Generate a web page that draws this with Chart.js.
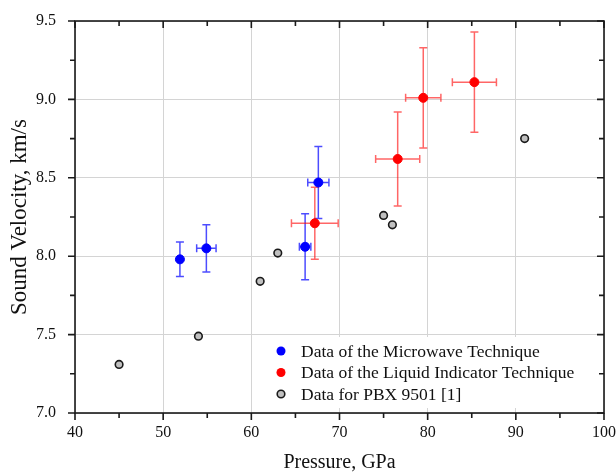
<!DOCTYPE html>
<html>
<head>
<meta charset="utf-8">
<script src="https://cdn.jsdelivr.net/npm/chart.js@4.4.0/dist/chart.umd.min.js"></script>
<style>
  html, body { margin: 0; padding: 0; background: #fff; }
</style>
</head>
<body>
<canvas id="sound-chart" width="616" height="475"></canvas>
<script>
// microwave technique
const mwPressure = [51.9, 54.9, 66.1, 67.6];
const mwPressureErr = [0, 1.1, 0.65, 1.2];
const mwVelocity = [7.98, 8.05, 8.06, 8.47];
const mwVelocityErr = [0.11, 0.15, 0.21, 0.23];

// liquid indicator technique
const liqPressure = [67.2, 76.6, 79.5, 85.3];
const liqPressureErr = [2.65, 2.5, 2.0, 2.5];
const liqVelocity = [8.21, 8.62, 9.01, 9.11];
const liqVelocityErr = [0.23, 0.30, 0.32, 0.32];

// PBX 9501 reference data
const pbxPressure = [45, 54, 61, 63, 75, 76, 91];
const pbxVelocity = [7.31, 7.49, 7.84, 8.02, 8.26, 8.20, 8.75];

const seriesLabels = ['Data of the Microwave Technique', 'Data of the Liquid Indicator Technique', 'Data for PBX 9501 [1]'];
const xTicks = [40, 50, 60, 70, 80, 90, 100];
const yTicks = [7.0, 7.5, 8.0, 8.5, 9.0, 9.5];

Chart.defaults.font.family = '"Liberation Serif", "Times New Roman", serif';
Chart.defaults.color = '#111';

function toPoints(xs, ys) {
  return xs.map((x, i) => ({x: x, y: ys[i]}));
}

// draws the x/y error bars of a dataset before the points
const errorBars = {
  id: 'errorBars',
  beforeDatasetsDraw(chart) {
    const ctx = chart.ctx;
    const x = chart.scales.x, y = chart.scales.y;
    const cap = 4;
    chart.data.datasets.forEach(ds => {
      if (!ds.errX) return;
      ctx.save();
      ctx.strokeStyle = ds.errColor;
      ctx.lineWidth = 1.5;
      ds.data.forEach((pt, i) => {
        const px = x.getPixelForValue(pt.x);
        const py = y.getPixelForValue(pt.y);
        const ex = ds.errX[i], ey = ds.errY[i];
        ctx.beginPath();
        if (ey) {
          const y1 = y.getPixelForValue(pt.y + ey), y2 = y.getPixelForValue(pt.y - ey);
          ctx.moveTo(px, y1); ctx.lineTo(px, y2);
          ctx.moveTo(px - cap, y1); ctx.lineTo(px + cap, y1);
          ctx.moveTo(px - cap, y2); ctx.lineTo(px + cap, y2);
        }
        if (ex) {
          const x1 = x.getPixelForValue(pt.x - ex), x2 = x.getPixelForValue(pt.x + ex);
          ctx.moveTo(x1, py); ctx.lineTo(x2, py);
          ctx.moveTo(x1, py - cap); ctx.lineTo(x1, py + cap);
          ctx.moveTo(x2, py - cap); ctx.lineTo(x2, py + cap);
        }
        ctx.stroke();
      });
      ctx.restore();
    });
  }
};

// legend box inside the plot, lower right
const insideLegend = {
  id: 'insideLegend',
  afterDatasetsDraw(chart) {
    const ctx = chart.ctx;
    ctx.save();
    ctx.fillStyle = '#fff';
    ctx.fillRect(262, 337, 340, 71);
    ctx.font = '17.5px "Liberation Serif", "Times New Roman", serif';
    ctx.textBaseline = 'middle';
    chart.data.datasets.forEach((ds, i) => {
      const rowY = 351 + i * 21.5;
      ctx.beginPath();
      ctx.arc(281, rowY, ds.legendRadius, 0, Math.PI * 2);
      ctx.fillStyle = ds.backgroundColor;
      ctx.fill();
      if (ds.borderWidth > 1) {
        ctx.lineWidth = ds.borderWidth;
        ctx.strokeStyle = ds.borderColor;
        ctx.stroke();
      }
      ctx.fillStyle = '#111';
      ctx.fillText(ds.label, 301, rowY + 1);
    });
    ctx.restore();
  }
};

// frame with ticks: out on left/bottom, in on top/right
const frameTicks = {
  id: 'frameTicks',
  afterDraw(chart) {
    const ctx = chart.ctx;
    const {left, right, top, bottom} = chart.chartArea;
    const x = chart.scales.x, y = chart.scales.y;
    ctx.save();
    ctx.strokeStyle = '#1a1a1a';
    ctx.lineWidth = 1.6;
    ctx.strokeRect(left, top, right - left, bottom - top);
    ctx.beginPath();
    for (let v = x.min; v <= x.max + 0.001; v += 5) {
      const px = x.getPixelForValue(v);
      const major = Math.abs(v % 10) < 0.001;
      ctx.moveTo(px, bottom); ctx.lineTo(px, bottom + (major ? 7 : 5));
      ctx.moveTo(px, top); ctx.lineTo(px, top + (major ? 7 : 5));
    }
    for (let v = y.min; v <= y.max + 0.001; v += 0.25) {
      const py = y.getPixelForValue(v);
      const major = Math.abs((v * 2) % 1) < 0.001;
      ctx.moveTo(left, py); ctx.lineTo(left - (major ? 7 : 5), py);
      ctx.moveTo(right, py); ctx.lineTo(right - (major ? 7 : 5), py);
    }
    ctx.stroke();
    ctx.restore();
  }
};

new Chart(document.getElementById('sound-chart'), {
  type: 'scatter',
  data: {
    datasets: [{
      label: seriesLabels[0],
      data: toPoints(mwPressure, mwVelocity),
      errX: mwPressureErr,
      errY: mwVelocityErr,
      errColor: 'rgba(0,0,255,0.7)',
      backgroundColor: '#0000ff',
      borderColor: '#0000ff',
      borderWidth: 1,
      pointRadius: 4.5,
      legendRadius: 4.5
    }, {
      label: seriesLabels[1],
      data: toPoints(liqPressure, liqVelocity),
      errX: liqPressureErr,
      errY: liqVelocityErr,
      errColor: 'rgba(255,0,0,0.6)',
      backgroundColor: '#ff0000',
      borderColor: '#ff0000',
      borderWidth: 1,
      pointRadius: 4.5,
      legendRadius: 4.5
    }, {
      label: seriesLabels[2],
      data: toPoints(pbxPressure, pbxVelocity),
      backgroundColor: '#c0c0c0',
      borderColor: '#1a1a1a',
      borderWidth: 1.6,
      pointRadius: 3.8,
      legendRadius: 3.8
    }]
  },
  options: {
    responsive: false,
    animation: false,
    layout: { padding: { left: 0, top: 21, right: 12, bottom: 0 } },
    plugins: {
      legend: { display: false },
      tooltip: { enabled: false }
    },
    scales: {
      x: {
        type: 'linear',
        min: xTicks[0],
        max: xTicks[xTicks.length - 1],
        afterBuildTicks: s => { s.ticks = xTicks.map(v => ({value: v})); },
        afterFit: s => { s.height = 62; },
        ticks: { padding: 0, font: { size: 16 } },
        grid: { color: '#d4d4d4', drawTicks: true, tickLength: 10, tickColor: 'rgba(0,0,0,0)' },
        border: { display: false },
        title: { display: true, text: 'Pressure, GPa', font: { size: 20 }, padding: { top: 0, bottom: 0 } }
      },
      y: {
        min: yTicks[0],
        max: yTicks[yTicks.length - 1],
        afterBuildTicks: s => { s.ticks = yTicks.map(v => ({value: v})); },
        afterFit: s => { s.width = 75; },
        ticks: { padding: 3, font: { size: 16 }, callback: v => v.toFixed(1) },
        grid: { color: '#d4d4d4', drawTicks: true, tickLength: 16, tickColor: 'rgba(0,0,0,0)' },
        border: { display: false },
        title: { display: true, text: 'Sound Velocity, km/s', font: { size: 23 }, padding: { top: 6, bottom: 0 } }
      }
    }
  },
  plugins: [errorBars, insideLegend, frameTicks]
});
</script>
</body>
</html>
